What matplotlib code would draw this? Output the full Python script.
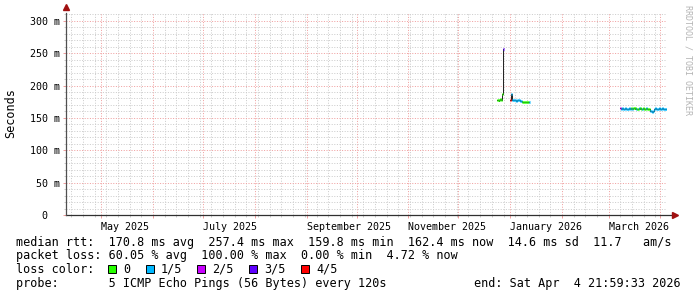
import numpy as np
import pandas as pd
import matplotlib
matplotlib.use("Agg")
import matplotlib.pyplot as plt
import matplotlib.dates as mdates
from matplotlib.patches import Rectangle
from matplotlib.ticker import MultipleLocator, FuncFormatter

# Finestra del grafico (360 giorni, fine Apr 4 2026)
t_start = pd.Timestamp("2025-04-09 22:00")
t_end = pd.Timestamp("2026-04-04 22:00")

# Mediana rtt (ms) e perdita (x/5) ogni 12 ore, tre blocchi di dati
seg1_start = "2025-12-24 00:00"
seg1_rtt = [177, 178, 176, 178, 179, 177, 187, 257]
seg1_loss = [0, 0, 0, 0, 0, 0, 0, 3]

seg2_start = "2026-01-01 00:00"
seg2_rtt = [177, 187, 178, 177, 177, 177, 177, 176, 177, 177, 177, 177,
            176, 176, 175, 175, 175, 174, 175, 175, 175, 175, 174, 175]
seg2_loss = [4, 1, 1, 1, 1, 1, 1, 1, 1, 1, 1, 1,
             1, 1, 0, 0, 0, 0, 0, 0, 0, 0, 0, 1]

seg3_start = "2026-03-08 00:00"
seg3_rtt = [165, 164, 165, 164, 163, 164, 165, 164, 163, 164, 165, 164,
            163, 165, 164, 165, 166, 164, 165, 164, 163, 164, 165, 164,
            165, 164, 163, 165, 164, 163, 164, 165, 164, 163, 163, 162,
            161, 160, 159, 161, 163, 164, 165, 164, 163, 164, 165, 164,
            163, 164, 165, 164, 163, 164, 164, 163]
seg3_loss = [2, 1, 1, 1, 1, 1, 1, 1, 1, 1, 1, 0,
             1, 0, 1, 0, 0, 1, 0, 1, 0, 0, 1, 0,
             0, 0, 1, 0, 0, 0, 0, 1, 0, 0, 0, 0,
             1, 1, 1, 1, 1, 1, 1, 1, 1, 1, 1, 1,
             1, 1, 1, 1, 1, 1, 1, 1]

loss_labels = ["0", "1/5", "2/5", "3/5", "4/5"]
loss_colors = ["#26ff00", "#00b8ff", "#c800ff", "#5e00ff", "#ff0000"]

rtt_stats = "median rtt:  170.8 ms avg  257.4 ms max  159.8 ms min  162.4 ms now  14.6 ms sd  11.7   am/s"
loss_stats = "packet loss: 60.05 % avg  100.00 % max  0.00 % min  4.72 % now"
probe_text = "probe:       5 ICMP Echo Pings (56 Bytes) every 120s"
end_text = "end: Sat Apr  4 21:59:33 2026"

W, H = 697, 297
mono = "DejaVu Sans Mono"
red_grid = "#f0a0a0"
gray_grid = "#cccccc"

fig = plt.figure(figsize=(W / 100, H / 100), dpi=100)
fig.patch.set_facecolor("white")
ax = fig.add_axes([66 / W, (H - 215) / H, (667 - 66) / W, (215 - 13) / H])

# Dati: linea sottile nera a gradini + segmenti colorati per perdita
step = pd.Timedelta("12h")
for start, rtt, loss in [(seg1_start, seg1_rtt, seg1_loss),
                         (seg2_start, seg2_rtt, seg2_loss),
                         (seg3_start, seg3_rtt, seg3_loss)]:
    t = pd.date_range(start, periods=len(rtt), freq="12h")
    x0 = mdates.date2num(t.to_pydatetime())
    x1 = mdates.date2num((t + step).to_pydatetime())
    ax.plot(x0, rtt, drawstyle="steps-post", color="#202020", lw=0.7, zorder=3)
    cols = [loss_colors[k] for k in loss]
    ax.hlines(rtt, x0, x1, colors=cols, lw=2.0, zorder=4)

ax.set_xlim(mdates.date2num(t_start), mdates.date2num(t_end))
ax.set_ylim(0, 312)

# Griglia: mesi in rosso, settimane in grigio; 50 ms rosso, 10 ms grigio
ax.xaxis.set_major_locator(mdates.MonthLocator())
ax.xaxis.set_minor_locator(mdates.WeekdayLocator(byweekday=mdates.SU))
ax.xaxis.set_major_formatter(FuncFormatter(
    lambda v, p: mdates.num2date(v).strftime("%B %Y") if mdates.num2date(v).month % 2 == 1 else ""))
ax.yaxis.set_major_locator(MultipleLocator(50))
ax.yaxis.set_minor_locator(MultipleLocator(10))
ax.yaxis.set_major_formatter(FuncFormatter(lambda v, p: "%d m" % v if v > 0 else "0  "))

ax.grid(which="minor", color=gray_grid, lw=0.72, ls=(0, (1, 1.6)), zorder=1)
ax.grid(which="major", color=red_grid, lw=0.72, ls=(0, (1, 1.6)), zorder=2)

for s in ax.spines.values():
    s.set_visible(False)
ax.tick_params(which="major", length=2, width=0.72, color=red_grid, pad=2,
               labelsize=7.2, labelfontfamily=mono)
ax.tick_params(which="minor", length=1.5, width=0.72, color=gray_grid)
ax.tick_params(axis="x", pad=3)
for lbl in ax.get_xticklabels():
    lbl.set_horizontalalignment("left")

# Assi con frecce
ax.plot([0, 1.012], [0, 0], transform=ax.transAxes, color="#303030", lw=0.9, clip_on=False, zorder=5)
ax.plot([0, 0], [0, 1.0], transform=ax.transAxes, color="#505050", lw=0.9, clip_on=False, zorder=5)
ax.plot([1.014], [0], marker=">", ms=4, color="#a01010", transform=ax.transAxes, clip_on=False, zorder=6)
ax.plot([0], [1.03], marker="^", ms=4, color="#a01010", transform=ax.transAxes, clip_on=False, zorder=6)

# Testi
fig.text(11 / W, 1 - 113 / H, "Seconds", rotation=90, ha="center", va="center",
         fontsize=8.5, family=mono)
fig.text(688 / W, 1 - 5 / H, "RRDTOOL / TOBI OETIKER", rotation=270, ha="center", va="top",
         fontsize=6, family=mono, color="#b4b4b4")

fs = 8.5
cw = 7.09  # larghezza carattere in px
fig.text(16 / W, 1 - 246 / H, rtt_stats, fontsize=fs, family=mono, va="baseline")
fig.text(16 / W, 1 - 259.5 / H, loss_stats, fontsize=fs, family=mono, va="baseline")
fig.text(16 / W, 1 - 273 / H, "loss color:", fontsize=fs, family=mono, va="baseline")
fig.text(16 / W, 1 - 287 / H, probe_text, fontsize=fs, family=mono, va="baseline")
fig.text(681 / W, 1 - 287 / H, end_text, fontsize=fs, family=mono, va="baseline", ha="right")

bx = 108
for lab, col in zip(loss_labels, loss_colors):
    fig.patches.append(Rectangle((bx / W, 1 - 273 / H), 8 / W, 8 / H, transform=fig.transFigure,
                                 facecolor=col, edgecolor="black", lw=0.7))
    lx = bx + 15
    fig.text(lx / W, 1 - 273 / H, lab, fontsize=fs, family=mono, va="baseline")
    bx = lx + len(lab) * cw + 15.5

fig.savefig("out.png", dpi=100)
